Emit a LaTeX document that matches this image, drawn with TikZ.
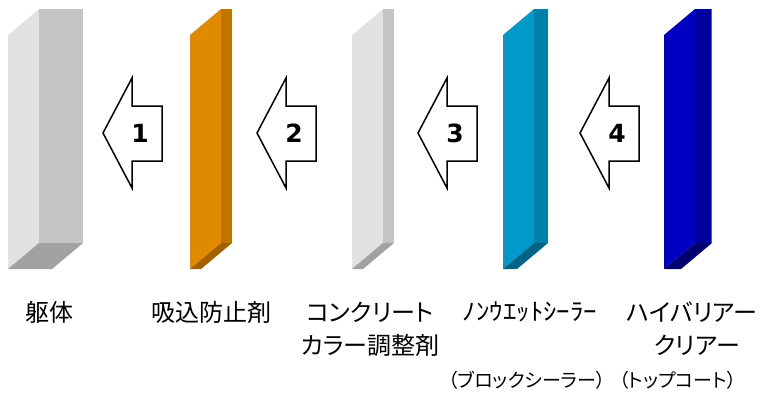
\documentclass[tikz,border=0pt]{standalone}
\usepackage{fontspec}
\usepackage{graphicx}
\newfontfamily\jp[RawFeature=+palt]{Noto Sans CJK JP}
\newfontfamily\numfont{DejaVu Sans}
\definecolor{grayL}{HTML}{E2E2E2}
\definecolor{grayM}{HTML}{C4C4C4}
\definecolor{grayD}{HTML}{A2A2A2}
\definecolor{orgL}{HTML}{E08A00}
\definecolor{orgM}{HTML}{C07400}
\definecolor{orgD}{HTML}{A45F00}
\definecolor{cyaL}{HTML}{0099CC}
\definecolor{cyaM}{HTML}{007FA8}
\definecolor{cyaD}{HTML}{006485}
\definecolor{bluL}{HTML}{0000C2}
\definecolor{bluM}{HTML}{00009A}
\definecolor{bluD}{HTML}{00006E}
\definecolor{bluE}{HTML}{5555CC}
\newcommand{\drawslab}[5]{%
  \fill[#3] ({#1-31},35) -- (#1,9) -- (#1,243) -- ({#1-31},269) -- cycle;
  \fill[#4] (#1,9) rectangle (#2,243);
  \fill[#5] ({#1-31},269) -- (#1,243) -- (#2,243) -- ({#2-31},269) -- cycle;
}
\newcommand{\blockarrow}[1]{%
  \draw[arrowline] (#1,133) -- ({#1+29},78) -- ({#1+29},106) -- ({#1+59},106)
    -- ({#1+59},161) -- ({#1+29},161) -- ({#1+29},188) -- cycle;
}
\tikzset{
  arrowline/.style={draw=black, fill=white, line width=1.5pt, line join=miter},
  num/.style={font=\numfont\bfseries\fontsize{25}{25}\selectfont, inner sep=0pt, anchor=center},
  lab/.style={font=\jp\fontsize{24}{24}\selectfont, inner sep=0pt, anchor=center},
  sublab/.style={font=\jp\fontsize{19}{19}\selectfont, inner sep=0pt, anchor=center},
}
\begin{document}
\begin{tikzpicture}[x=1pt,y=-1pt]
\useasboundingbox (0,0) rectangle (762,392);
% slabs
\drawslab{39}{83}{grayL}{grayM}{grayD}
\drawslab{221}{232}{orgL}{orgM}{orgD}
\drawslab{383}{394}{grayL}{grayM}{grayD}
\drawslab{534}{548}{cyaL}{cyaM}{cyaD}
\drawslab{695}{712}{bluL}{bluM}{bluD}
\draw[bluE, line width=1.2pt] (711.4,9) -- (711.4,243);
% arrows
\blockarrow{103}
\blockarrow{257}
\blockarrow{418}
\blockarrow{580}
\node[num] (k1) at (140,133) {1};
\node[num] (k2) at (294,133) {2};
\node[num] (k3) at (455,133) {3};
\node[num] (k4) at (617,133) {4};
% labels
\node[lab] (l1) at (49,312) {躯体};
\node[lab] (l2) at (211,312) {吸込防止剤};
\node[lab] (l3a) at (370,312) {コンクリート};
\node[lab] (l3b) at (370,345) {カラー調整剤};
\node[lab] (l4a) at (530,312) {\scalebox{1.12}[1]{ﾉﾝｳｴｯﾄｼｰﾗｰ}};
\node[sublab] (l4b) at (527,380) {（ブロックシーラー）};
\node[lab] (l5a) at (692,312) {ハイバリアー};
\node[lab] (l5b) at (697,345) {クリアー};
\node[sublab] (l5c) at (678,380) {（トップコート）};
\end{tikzpicture}
\end{document}
